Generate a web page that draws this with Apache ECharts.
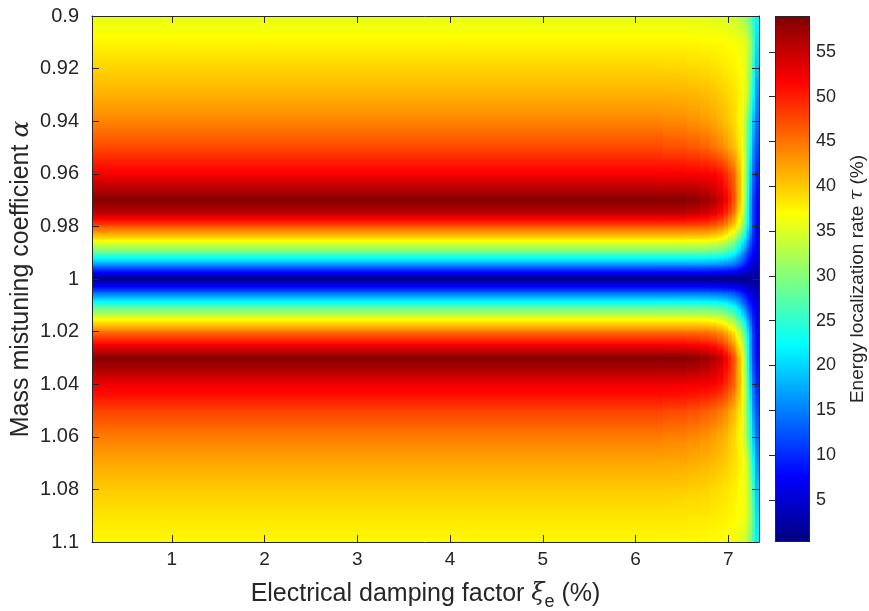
<!DOCTYPE html>
<html>
<head>
<meta charset="utf-8">
<script src="https://cdn.jsdelivr.net/npm/echarts@6/dist/echarts.min.js"></script>
<style>
  html, body { margin: 0; padding: 0; background: #ffffff; }
  #chart { width: 869px; height: 611px; }
</style>
</head>
<body>
<div id="chart"></div>
<script>
// Column edges along the electrical damping factor (%); column j spans xiEdges[j]..xiEdges[j+1]
const xiEdges = [0.14, 5.9, 6.3, 6.55, 6.7, 6.8, 6.88, 6.95, 7.0, 7.04, 7.08, 7.11, 7.14, 7.17, 7.2, 7.23, 7.26, 7.29, 7.33];

// Mass mistuning coefficient at which each row of tau values is sampled
const alphaRows = [0.9, 0.91, 0.92, 0.93, 0.94, 0.95, 0.955, 0.96, 0.965, 0.97, 0.975, 0.98, 0.985, 0.99, 0.995,
                   1.0, 1.005, 1.01, 1.015, 1.02, 1.025, 1.03, 1.035, 1.04, 1.045, 1.05, 1.06, 1.07, 1.08, 1.09, 1.1];

// Energy localization rate tau (%), one row per alpha, one entry per damping column
const tauGrid = [
  [35.5, 35.5, 35.5, 35.4, 35.3, 35.1, 34.9, 34.7, 34.4, 34.0, 33.4, 32.9, 32.2, 31.0, 29.5, 27.5, 24.5, 22.0],  // 0.90
  [37.5, 37.5, 37.5, 37.4, 37.3, 37.25, 37.15, 37.0, 36.8, 36.7, 36.4, 36.2, 35.8, 35.5, 33.5, 31.0, 27.0, 21.0], // 0.91
  [39.5, 39.5, 39.4, 39.2, 39.0, 38.75, 38.4, 38.15, 37.9, 37.7, 37.35, 37.05, 36.5, 35.7, 33.0, 30.0, 25.0, 19.0], // 0.92
  [41.5, 41.5, 41.45, 41.2, 40.9, 40.5, 40.0, 39.5, 39.1, 38.7, 38.1, 37.6, 36.8, 35.5, 32.5, 28.0, 22.5, 16.0], // 0.93
  [44.0, 44.0, 43.7, 43.2, 42.7, 42.1, 41.3, 40.5, 39.9, 39.2, 38.2, 37.3, 35.8, 33.5, 28.0, 24.0, 19.0, 14.0],  // 0.94
  [47.5, 47.5, 47.2, 46.6, 46.0, 45.1, 44.0, 42.9, 41.9, 40.9, 39.5, 38.2, 36.0, 33.0, 27.0, 22.0, 16.0, 12.0],  // 0.95
  [49.8, 49.8, 49.7, 49.3, 48.95, 48.3, 47.3, 46.0, 44.7, 43.5, 41.2, 39.5, 37.0, 33.3, 26.5, 21.0, 15.0, 10.8], // 0.955
  [52.0, 52.0, 52.0, 51.9, 51.8, 51.5, 50.6, 49.0, 47.5, 46.0, 42.8, 40.5, 36.8, 33.0, 25.5, 19.5, 13.5, 9.5],   // 0.96
  [55.3, 55.3, 55.25, 55.0, 54.5, 53.8, 52.6, 50.7, 48.8, 46.8, 43.4, 40.8, 36.5, 32.5, 24.8, 18.5, 12.5, 8.7],  // 0.965
  [58.7, 58.7, 58.65, 58.3, 57.5, 56.3, 54.7, 52.2, 49.8, 47.3, 43.5, 40.8, 36.2, 32.0, 24.0, 17.5, 11.5, 8.0],  // 0.97
  [55.5, 55.5, 55.45, 55.0, 54.4, 53.2, 51.6, 49.5, 47.3, 45.0, 41.5, 38.7, 34.5, 30.5, 23.0, 16.5, 11.0, 7.5],  // 0.975
  [47.0, 47.0, 47.0, 46.9, 46.7, 46.0, 44.9, 43.2, 41.5, 39.6, 37.0, 34.8, 31.3, 28.0, 21.5, 16.5, 11.0, 7.0],   // 0.98
  [38.0, 38.0, 38.0, 37.9, 37.7, 37.3, 36.4, 34.9, 33.4, 31.9, 29.0, 26.8, 23.6, 21.0, 16.5, 13.0, 9.5, 6.5],    // 0.985
  [28.0, 28.0, 28.0, 27.9, 27.8, 27.5, 26.9, 25.9, 24.8, 23.4, 21.3, 19.2, 16.6, 14.7, 11.5, 9.5, 7.7, 5.8],     // 0.99
  [15.0, 15.0, 15.0, 15.0, 14.9, 14.7, 14.5, 14.1, 13.7, 13.1, 12.1, 11.3, 9.8, 8.8, 7.0, 6.0, 5.0, 4.0],        // 0.995
  [0.3, 0.3, 0.3, 0.3, 0.3, 0.3, 0.3, 0.3, 0.3, 0.3, 0.3, 0.35, 0.5, 0.6, 0.9, 1.2, 1.5, 1.8],                 // 1.0
  [13.0, 13.0, 13.0, 13.0, 12.9, 12.7, 12.5, 12.2, 11.8, 11.3, 10.6, 9.9, 8.7, 8.0, 6.5, 5.6, 4.8, 3.8],        // 1.005
  [26.0, 26.0, 26.0, 25.9, 25.8, 25.5, 25.0, 24.1, 23.0, 21.8, 19.9, 18.2, 15.7, 14.0, 11.0, 9.2, 7.5, 5.6],     // 1.01
  [36.0, 36.0, 36.0, 35.9, 35.7, 35.3, 34.5, 33.2, 31.8, 30.3, 27.7, 25.7, 22.6, 20.2, 16.0, 12.7, 9.3, 6.4],    // 1.015
  [45.0, 45.0, 45.0, 44.9, 44.7, 44.1, 43.1, 41.5, 39.8, 38.1, 35.3, 33.4, 30.2, 27.0, 21.0, 16.2, 11.0, 7.0],   // 1.02
  [52.0, 52.0, 51.95, 51.6, 51.1, 50.2, 48.8, 47.0, 45.0, 43.0, 39.8, 37.4, 33.5, 30.0, 22.8, 16.5, 11.2, 7.6],  // 1.025
  [58.7, 58.7, 58.65, 58.3, 57.5, 56.3, 54.7, 52.2, 49.8, 47.3, 43.5, 40.8, 36.2, 32.0, 24.0, 17.5, 11.5, 8.0],  // 1.03
  [56.0, 56.0, 55.95, 55.6, 55.1, 54.2, 52.9, 51.0, 49.0, 47.0, 43.4, 40.8, 36.5, 32.5, 24.8, 18.5, 12.5, 8.7],  // 1.035
  [52.5, 52.5, 52.5, 52.4, 52.2, 51.9, 51.0, 49.3, 47.8, 46.2, 43.1, 40.8, 37.1, 33.2, 25.8, 19.8, 13.8, 9.7],   // 1.04
  [50.5, 50.5, 50.4, 50.0, 49.6, 49.0, 48.0, 46.7, 45.4, 44.0, 41.6, 39.9, 37.0, 33.4, 26.8, 21.2, 15.0, 10.8],  // 1.045
  [48.0, 48.0, 47.7, 47.1, 46.5, 45.8, 44.8, 43.7, 42.6, 41.2, 39.7, 38.3, 36.0, 33.1, 27.2, 22.0, 16.0, 12.0],  // 1.05
  [44.5, 44.5, 44.2, 43.7, 43.2, 42.5, 41.8, 41.0, 40.1, 39.4, 38.3, 37.4, 35.6, 33.8, 28.5, 24.3, 19.2, 14.0],  // 1.06
  [42.0, 42.0, 41.95, 41.6, 41.3, 40.9, 40.4, 39.9, 39.4, 38.9, 38.3, 37.7, 36.8, 35.7, 32.8, 28.2, 22.7, 16.5], // 1.07
  [40.0, 40.0, 39.9, 39.7, 39.5, 39.2, 38.8, 38.5, 38.2, 37.9, 37.5, 37.1, 36.5, 36.0, 33.3, 30.2, 25.3, 19.5],  // 1.08
  [38.5, 38.5, 38.45, 38.35, 38.3, 38.15, 38.0, 37.85, 37.7, 37.5, 37.1, 36.8, 36.4, 36.0, 34.0, 31.3, 27.2, 21.0], // 1.09
  [37.3, 37.3, 37.3, 37.2, 37.1, 36.95, 36.8, 36.65, 36.4, 36.2, 35.8, 35.4, 34.8, 34.2, 32.0, 29.5, 26.0, 22.0]  // 1.10
];

// Axis ticks
const xTicks = [1, 2, 3, 4, 5, 6, 7];
const yTicks = [0.9, 0.92, 0.94, 0.96, 0.98, 1, 1.02, 1.04, 1.06, 1.08, 1.1];
const cbTicks = [5, 10, 15, 20, 25, 30, 35, 40, 45, 50, 55];
const tauMin = 0.3;
const tauMax = 59;

// Jet colormap: piecewise linear in RGB between these anchor colours
const jetStops = [
  [0, [0, 0, 128]], [0.125, [0, 0, 255]], [0.375, [0, 255, 255]],
  [0.625, [255, 255, 0]], [0.875, [255, 0, 0]], [1, [128, 0, 0]]
];

function jetAt(f) {
  f = Math.max(0, Math.min(1, f));
  for (let k = 1; k < jetStops.length; k++) {
    const a = jetStops[k - 1], b = jetStops[k];
    if (f <= b[0]) {
      const t = (f - a[0]) / (b[0] - a[0]);
      const c = a[1].map((v, i) => Math.round(v + (b[1][i] - v) * t));
      return 'rgb(' + c.join(',') + ')';
    }
  }
  return 'rgb(128,0,0)';
}
const toFrac = v => (v - tauMin) / (tauMax - tauMin);

// Gradient stops between two tau values, with the colormap anchors that fall in between
function stopsBetween(vTop, vBot) {
  const f0 = toFrac(vTop), f1 = toFrac(vBot);
  const stops = [{ offset: 0, color: jetAt(f0) }];
  if (Math.abs(f1 - f0) > 1e-9) {
    const inner = jetStops.map(s => s[0]).filter(f => (f - f0) * (f - f1) < 0)
      .map(f => ({ offset: (f - f0) / (f1 - f0), color: jetAt(f) }))
      .sort((a, b) => a.offset - b.offset);
    stops.push(...inner);
  }
  stops.push({ offset: 1, color: jetAt(f1) });
  return stops;
}

// Cells: [xiLeft, xiRight, alphaTop, alphaBottom, tauTop, tauBottom]
const cells = [];
for (let j = 0; j < xiEdges.length - 1; j++) {
  for (let i = 0; i < alphaRows.length - 1; i++) {
    cells.push([xiEdges[j], xiEdges[j + 1], alphaRows[i], alphaRows[i + 1], tauGrid[i][j], tauGrid[i + 1][j]]);
  }
}

const ink = '#262626';
const fontFam = '"Liberation Sans", Arial, Helvetica, sans-serif';
const greek = { fontFamily: '"DejaVu Serif", serif', fontStyle: 'italic', color: ink };

const chart = echarts.init(document.getElementById('chart'), null, { renderer: 'canvas' });

const frameAxis = (extra) => Object.assign({
  type: 'value',
  z: 10,
  nameMoveOverlap: false,
  splitLine: { show: false },
  axisLine: { show: true, onZero: false, lineStyle: { color: ink, width: 1 } },
  axisTick: { show: true, inside: true, length: 7, lineStyle: { color: ink, width: 1 } }
}, extra);

chart.setOption({
  backgroundColor: '#ffffff',
  animation: false,
  grid: [
    { left: 92, top: 16, width: 667, height: 526, containLabel: false, outerBoundsMode: 'none' },
    { left: 775, top: 16, width: 35, height: 526, containLabel: false, outerBoundsMode: 'none' }
  ],
  xAxis: [
    frameAxis({
      gridIndex: 0, position: 'bottom', min: 0.14, max: 7.33,
      axisTick: { show: true, inside: true, length: 7, customValues: xTicks, lineStyle: { color: ink } },
      axisLabel: { customValues: xTicks, color: ink, fontSize: 19, fontFamily: fontFam, margin: 8 },
      name: '{n|Electrical damping factor }{g|ξ}{s|e}{n| (%)}',
      nameLocation: 'middle', nameGap: 35,
      nameTextStyle: {
        rich: {
          n: { fontSize: 25, fontFamily: fontFam, color: ink },
          g: Object.assign({ fontSize: 24 }, greek),
          s: { fontSize: 18, fontFamily: fontFam, color: ink, padding: [16, 0, 0, 0] }
        }
      }
    }),
    frameAxis({
      gridIndex: 0, position: 'top', min: 0.14, max: 7.33,
      axisTick: { show: true, inside: true, length: 7, customValues: xTicks, lineStyle: { color: ink } },
      axisLabel: { show: false }
    }),
    { type: 'value', gridIndex: 1, min: 0, max: 1, show: false }
  ],
  yAxis: [
    frameAxis({
      gridIndex: 0, position: 'left', min: 0.9, max: 1.1, inverse: true,
      axisTick: { show: true, inside: true, length: 7, customValues: yTicks, lineStyle: { color: ink } },
      axisLabel: { customValues: yTicks, color: ink, fontSize: 20, fontFamily: fontFam, margin: 13 },
      name: '{n|Mass mistuning coefficient }{g|α}',
      nameLocation: 'middle', nameRotate: 90, nameGap: 58,
      nameTextStyle: {
        rich: {
          n: { fontSize: 25, fontFamily: fontFam, color: ink },
          g: Object.assign({ fontSize: 25 }, greek)
        }
      }
    }),
    frameAxis({
      gridIndex: 0, position: 'right', min: 0.9, max: 1.1, inverse: true,
      axisTick: { show: true, inside: true, length: 7, customValues: yTicks, lineStyle: { color: ink } },
      axisLabel: { show: false }
    }),
    frameAxis({
      gridIndex: 1, position: 'right', min: tauMin, max: tauMax,
      axisLine: { show: false },
      axisTick: { show: true, inside: true, length: 6, customValues: cbTicks, lineStyle: { color: ink } },
      axisLabel: { customValues: cbTicks, color: ink, fontSize: 18, fontFamily: fontFam, margin: 6 },
      name: '{n|Energy localization rate }{g|τ}{n| (%)}',
      nameLocation: 'middle', nameRotate: 90, nameGap: 38,
      nameTextStyle: {
        rich: {
          n: { fontSize: 19, fontFamily: fontFam, color: ink },
          g: Object.assign({ fontSize: 19 }, greek)
        }
      }
    })
  ],
  series: [
    {
      // Filled tau field
      type: 'custom',
      xAxisIndex: 0, yAxisIndex: 0,
      clip: true,
      silent: true,
      encode: { x: [0, 1], y: [2, 3] },
      data: cells,
      renderItem: function (params, api) {
        const a = api.coord([api.value(0), api.value(2)]);
        const b = api.coord([api.value(1), api.value(3)]);
        const topFirst = a[1] <= b[1];
        const vTop = topFirst ? api.value(4) : api.value(5);
        const vBot = topFirst ? api.value(5) : api.value(4);
        const x = Math.min(a[0], b[0]), y = Math.min(a[1], b[1]);
        const w = Math.abs(b[0] - a[0]), h = Math.abs(b[1] - a[1]);
        return {
          type: 'rect',
          shape: { x: x - 0.4, y: y - 0.4, width: w + 0.8, height: h + 0.8 },
          style: { fill: new echarts.graphic.LinearGradient(0, 0, 0, 1, stopsBetween(vTop, vBot)) }
        };
      }
    },
    {
      // Colour bar
      type: 'custom',
      xAxisIndex: 2, yAxisIndex: 2,
      silent: true,
      encode: { x: [0, 1], y: [2, 3] },
      data: [[0, 1, tauMin, tauMax]],
      renderItem: function (params, api) {
        const a = api.coord([api.value(0), api.value(2)]);
        const b = api.coord([api.value(1), api.value(3)]);
        const x = Math.min(a[0], b[0]), y = Math.min(a[1], b[1]);
        const w = Math.abs(b[0] - a[0]), h = Math.abs(b[1] - a[1]);
        const grad = jetStops.map(s => ({ offset: s[0], color: jetAt(s[0]) }));
        return {
          type: 'group',
          children: [
            { type: 'rect', shape: { x, y, width: w, height: h },
              style: { fill: new echarts.graphic.LinearGradient(0, 1, 0, 0, grad) } },
            { type: 'rect', shape: { x: x + 0.5, y: y + 0.5, width: w - 1, height: h - 1 },
              style: { fill: null, stroke: ink, lineWidth: 1 } }
          ]
        };
      }
    }
  ]
});
</script>
</body>
</html>
